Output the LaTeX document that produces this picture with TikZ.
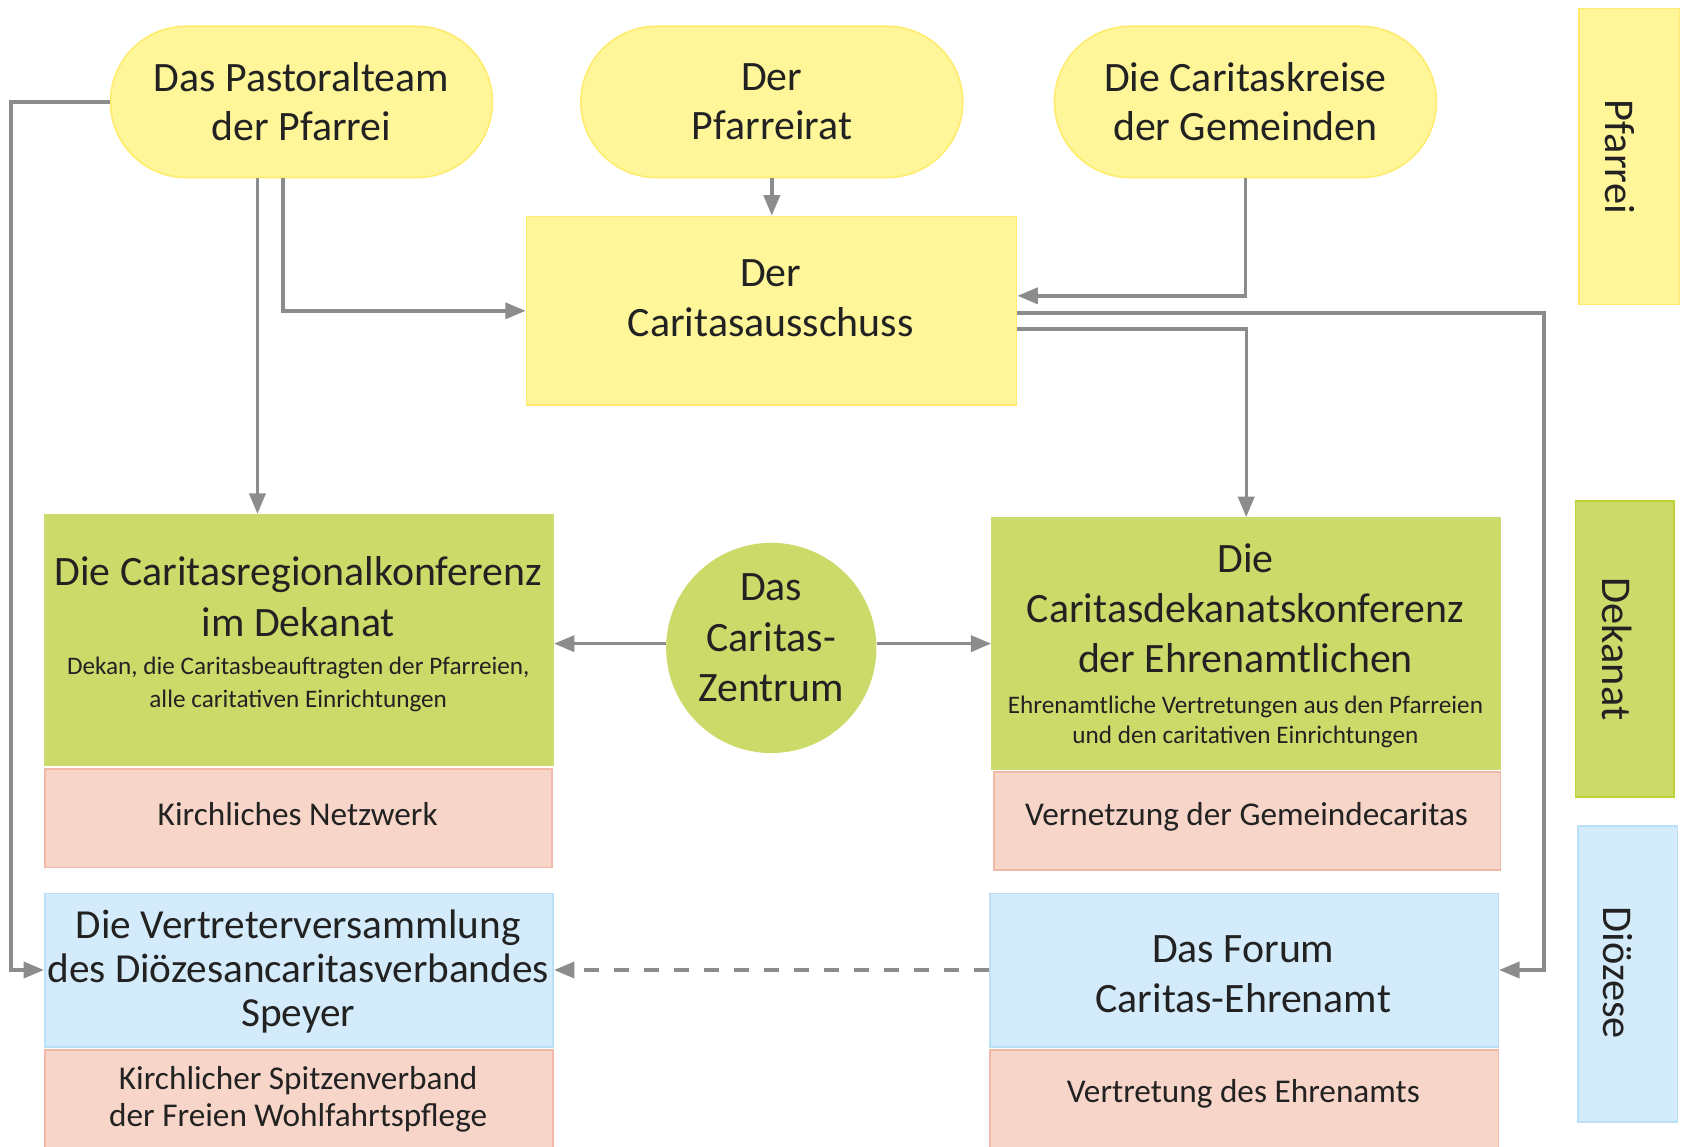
\documentclass[tikz,border=0pt]{standalone}
\usepackage{fontspec}
\setmainfont{Carlito}
\usetikzlibrary{arrows.meta,shapes.misc}
\definecolor{yfill}{HTML}{FFF599}
\definecolor{ydraw}{HTML}{FFEC6E}
\definecolor{gfill}{HTML}{CCDA6A}
\definecolor{gdraw}{HTML}{BFD334}
\definecolor{pfill}{HTML}{F7D5C9}
\definecolor{pdraw}{HTML}{F2B9A8}
\definecolor{bfill}{HTML}{D3EBFA}
\definecolor{bdraw}{HTML}{B9E0F7}
\definecolor{conncol}{HTML}{8C8C8C}
\definecolor{txt}{HTML}{222222}
\tikzset{
  box/.style={rectangle, inner sep=0pt, line width=1.5pt, anchor=north west},
  ybox/.style={box, fill=yfill, draw=ydraw},
  gbox/.style={box, fill=gfill, draw=gfill!97!white},
  pbox/.style={box, fill=pfill, draw=pdraw},
  bbox/.style={box, fill=bfill, draw=bdraw},
  stad/.style={rounded rectangle, fill=yfill, draw=ydraw, line width=1.5pt, minimum width=356pt, minimum height=141pt, inner sep=0pt, align=center, text=txt, font=\fontsize{39}{46}\selectfont},
  bigt/.style={align=center, text=txt, inner sep=0pt, font=\fontsize{39}{47}\selectfont},
  smallt/.style={align=center, text=txt, inner sep=0pt, font=\fontsize{23.5}{30}\selectfont},
  pinkt/.style={align=center, text=txt, inner sep=0pt, font=\fontsize{31}{34}\selectfont},
  sidet/.style={rotate=-90, text=txt, inner sep=0pt, font=\fontsize{39.5}{44}\selectfont},
  conn/.style={draw=conncol, line width=3.2pt, -{Triangle[length=19pt,width=15pt]}},
}
\begin{document}
\begin{tikzpicture}[x=1pt,y=-1pt]
\useasboundingbox (0,0) rectangle (1568,1069);
% top stadiums
\node[stad] (past) at (281,95) {Das Pastoralteam\\der Pfarrei};
\node[stad] (pfr) at (719.5,95) {Der\\Pfarreirat};
\node[stad] (kre) at (1161,95) {Die Caritaskreise\\der Gemeinden};
% Caritasausschuss
\node[ybox, minimum width=457pt, minimum height=176pt] (aus) at (490,201) {};
\node[bigt] (aust) at (718.5,278) {Der\\Caritasausschuss};
% side labels
\node[ybox, minimum width=94pt, minimum height=276pt] (sp) at (1471,7) {};
\node[sidet] (spt) at (1510,146) {Pfarrei};
\node[box, fill=gfill, draw=gdraw, minimum width=92pt, minimum height=276pt] (sd) at (1468,466) {};
\node[sidet] (sdt) at (1507,605) {Dekanat};
\node[bbox, minimum width=93pt, minimum height=276pt] (sz) at (1470,769) {};
\node[sidet] (szt) at (1508,907) {Diözese};
% Regionalkonferenz
\node[gbox, minimum width=474pt, minimum height=234pt] (reg) at (41,479) {};
\node[bigt] (regt) at (278,556) {Die Caritasregionalkonferenz\\im Dekanat};
\node[smallt] (regs) at (278,638) {Dekan, die Caritasbeauftragten der Pfarreien,\\alle caritativen Einrichtungen};
\node[pbox, minimum width=473pt, minimum height=92pt] (kn) at (41,716) {};
\node[pinkt] (knt) at (277.5,759) {Kirchliches Netzwerk};
% Zentrum
\node[circle, fill=gfill, minimum size=196pt, inner sep=0pt] (zen) at (719,604) {};
\node[bigt] (zent) at (719,594.5) {Das\\Caritas-\\Zentrum};
% Dekanatskonferenz
\node[gbox, minimum width=474pt, minimum height=234pt] (dek) at (924,482) {};
\node[bigt] (dekt) at (1161,567) {Die\\Caritasdekanatskonferenz\\der Ehrenamtlichen};
\node[smallt, font=\fontsize{23.5}{28}\selectfont] (deks) at (1161,673) {Ehrenamtliche Vertretungen aus den Pfarreien\\und den caritativen Einrichtungen};
\node[pbox, minimum width=472pt, minimum height=91pt] (vn) at (926,719) {};
\node[pinkt] (vnt) at (1162,761) {Vernetzung der Gemeindecaritas};
% Vertreterversammlung
\node[bbox, minimum width=474pt, minimum height=143pt] (vert) at (41,832) {};
\node[bigt, font=\fontsize{38.5}{41}\selectfont] (vertt) at (278,906) {Die Vertreterversammlung\\des Diözesancaritasverbandes\\Speyer};
\node[pbox, minimum width=474pt, minimum height=96pt] (spv) at (41,978) {};
\node[pinkt] (spvt) at (278,1025) {Kirchlicher Spitzenverband\\der Freien Wohlfahrtspflege};
% Forum
\node[bbox, minimum width=474pt, minimum height=143pt] (forum) at (922,832) {};
\node[bigt] (forumt) at (1159,908) {Das Forum\\Caritas-Ehrenamt};
\node[pbox, minimum width=474pt, minimum height=96pt] (ve) at (922,978) {};
\node[pinkt] (vet) at (1159,1020) {Vertretung des Ehrenamts};
% connectors
\draw[conn] (past.west) -- ++(-92,0) |- (vert.west);
\draw[conn] ([xshift=-41pt]past.south) -- ([xshift=-41pt]past.south |- reg.north);
\draw[conn] ([xshift=-17pt]past.south) |- (aus.west);
\draw[conn] (pfr.south) -- (pfr.south |- aus.north);
\draw[conn] (kre.south) |- ([yshift=14pt]aus.east);
\draw[conn] ([yshift=-2pt]aus.east) -- ++(491,0) |- (forum.east);
\draw[conn] ([yshift=-17pt]aus.east) -| (dek.north);
\draw[conn] ([yshift=4pt]zen.west) -- ([yshift=4pt]zen.west -| reg.east);
\draw[conn] ([yshift=4pt]zen.east) -- ([yshift=4pt]zen.east -| dek.west);
\draw[conn, dash pattern=on 14pt off 14pt] (forum.west) -- (vert.east);
\end{tikzpicture}
\end{document}
